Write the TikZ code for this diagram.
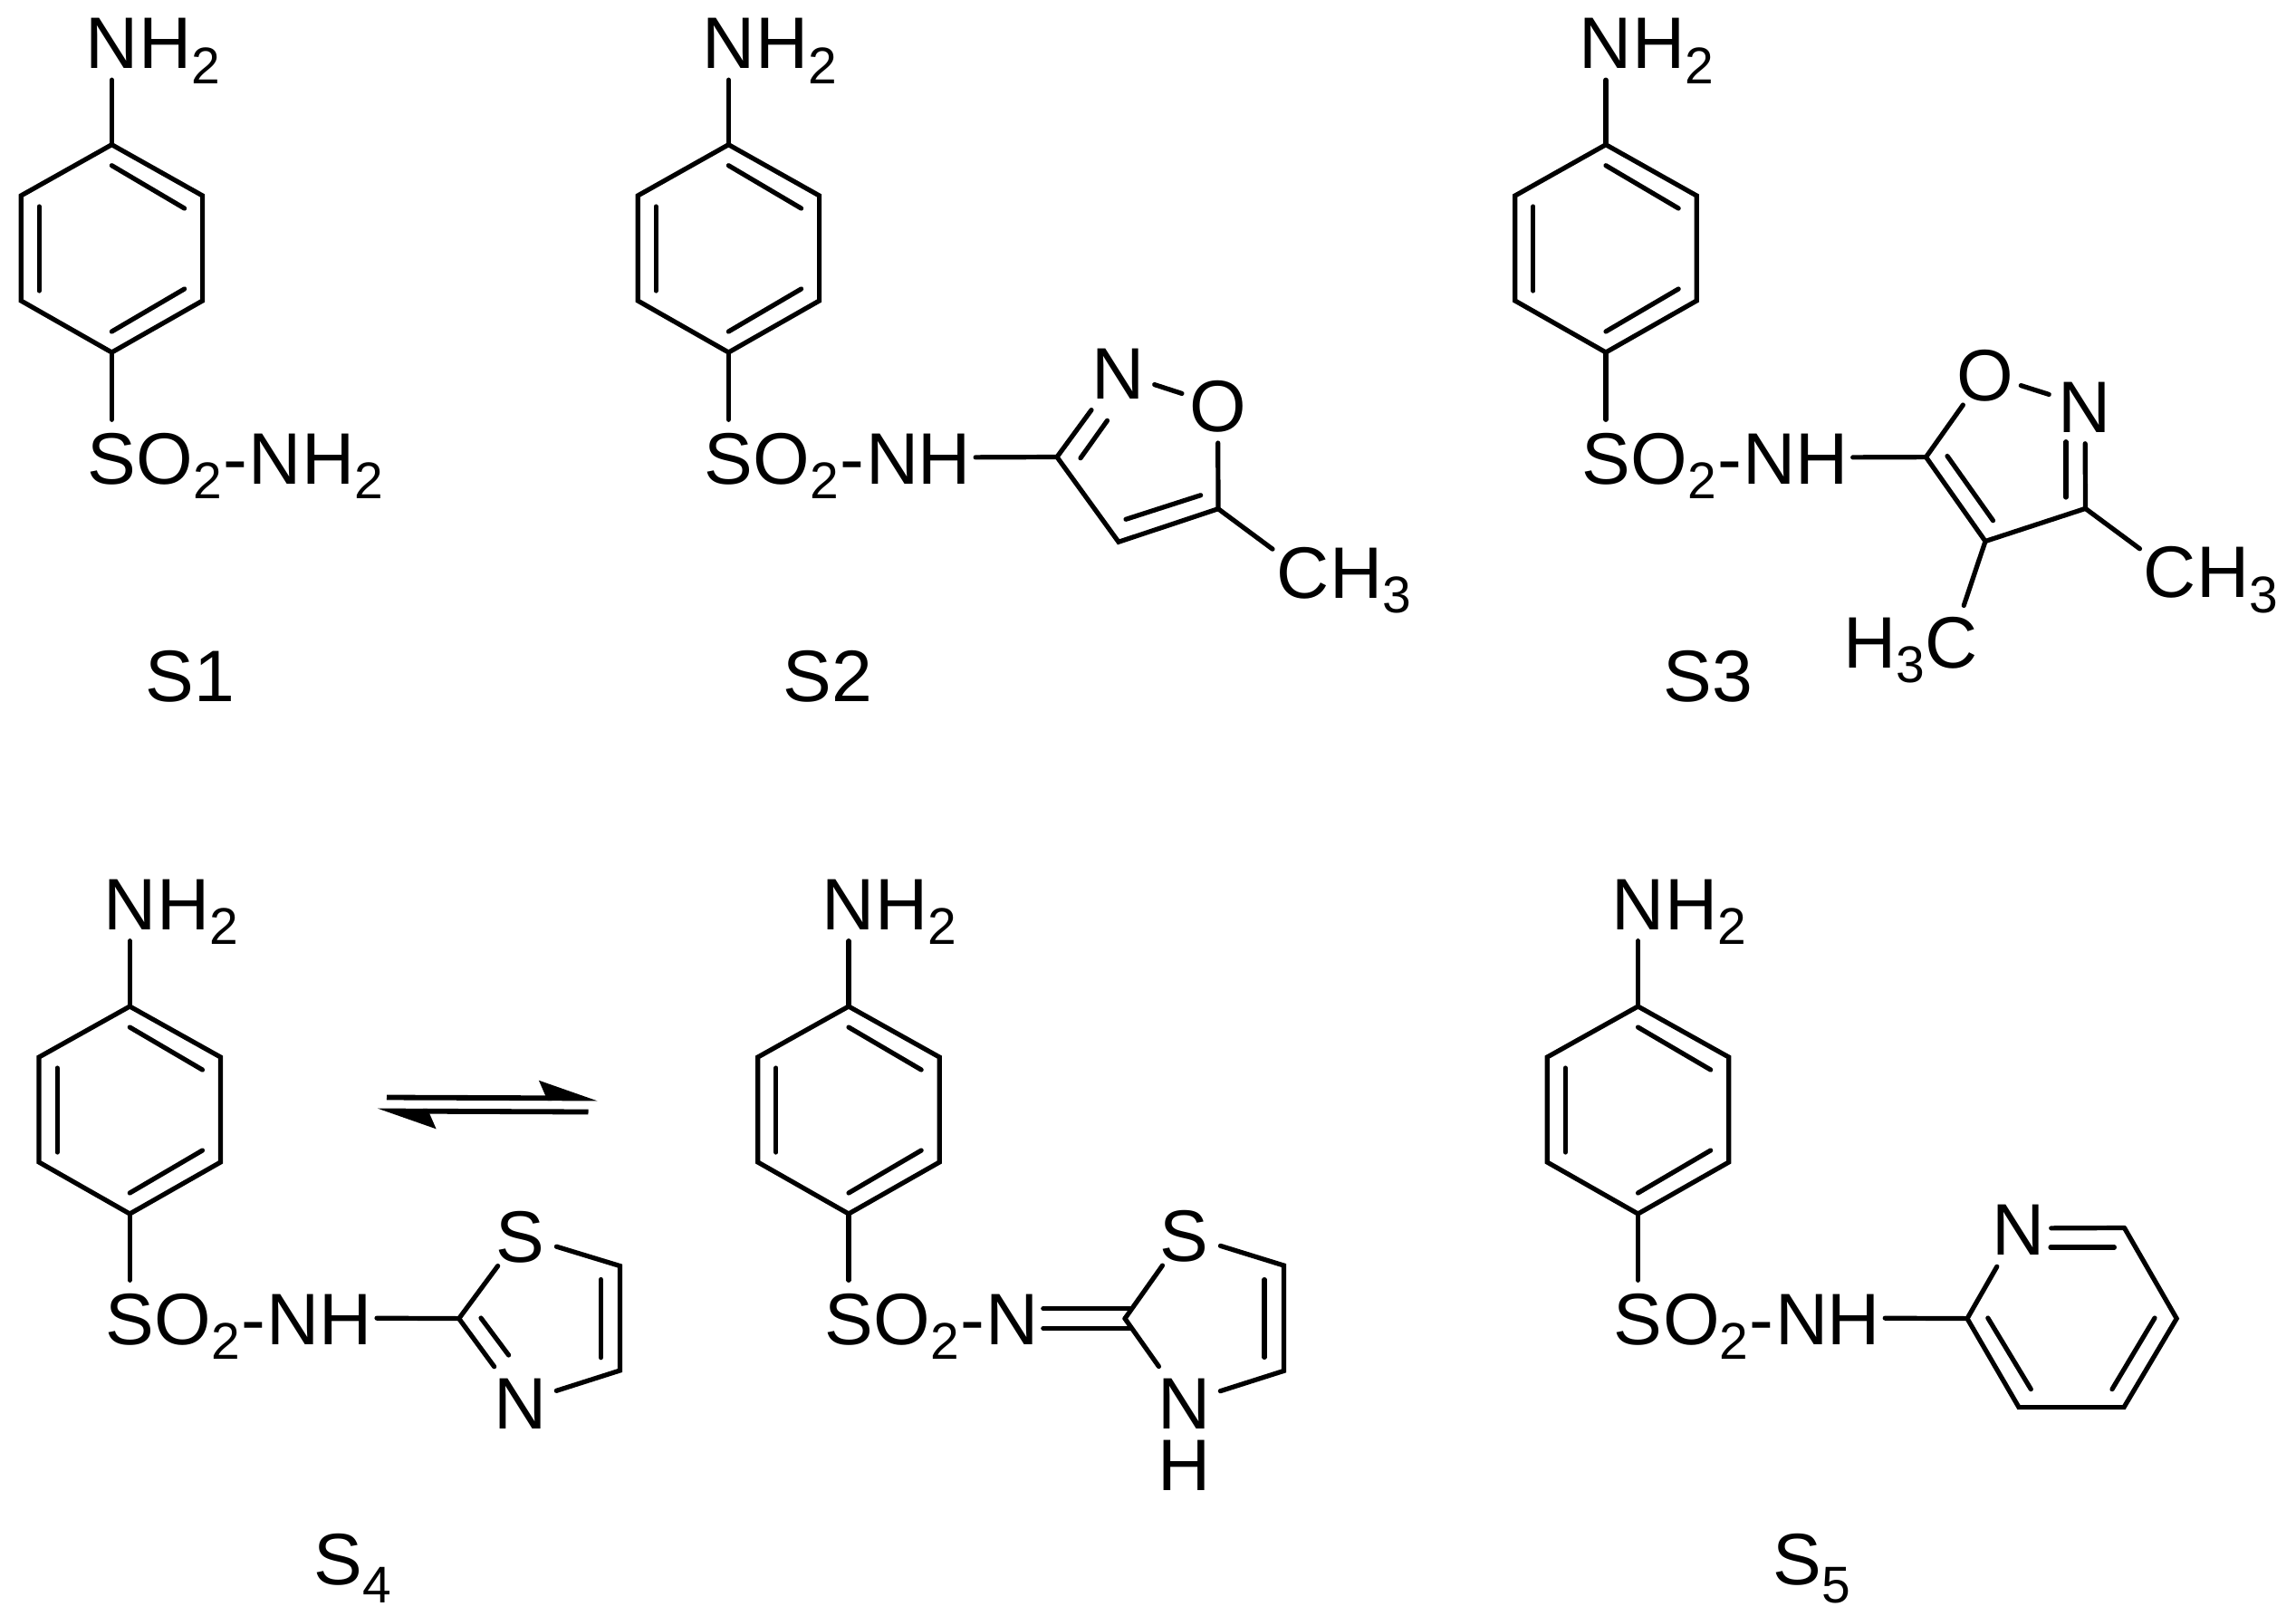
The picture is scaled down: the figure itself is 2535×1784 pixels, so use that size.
\documentclass[tikz,border=0pt]{standalone}
\usepackage{fontspec}
\setmainfont{Liberation Sans}
\usepackage{tikz}
\usetikzlibrary{arrows.meta}

\newcommand{\sbs}[1]{\raisebox{-0.165cm}{\fontsize{16.2pt}{16pt}\selectfont #1}}
\newcommand{\sbslow}[1]{\raisebox{-0.2cm}{\fontsize{16.2pt}{16pt}\selectfont #1}}
\newcommand{\atomtxt}[1]{\makebox[0pt]{\raisebox{-0.29cm}[0pt][0pt]{#1}}}
\newcommand{\hyph}{\kern0.015cm-\kern0.015cm}
\tikzset{
	bond/.style={black,line width=0.052cm,line cap=round,line join=miter},
	atom/.style={circle,inner sep=0pt,minimum size=0.82cm},
	atomh/.style={circle,inner sep=0pt,minimum size=0.67cm},
	tail/.style={inner sep=0pt,anchor=base west},
	eqarrow/.style={black,line width=0.058cm,-{Stealth[left,length=0.56cm,width=0.38cm,inset=0.08cm]}}
}

\begin{document}
\begin{tikzpicture}[x=0.01cm,y=-0.01cm,every node/.style={font=\fontsize{22.9pt}{26pt}\selectfont}]
	\useasboundingbox (0,0) rectangle (2535,1784);

	%S1
	\coordinate (s1a) at (123.4,159.7);
	\coordinate (s1b) at (223.6,216);
	\coordinate (s1c) at (223.6,332);
	\coordinate (s1d) at (123.4,389);
	\coordinate (s1e) at (23.2,332);
	\coordinate (s1f) at (23.2,216);
	\draw [bond] (s1a) -- (s1b) -- (s1c) -- (s1d) -- (s1e) -- (s1f) -- cycle;
	\draw [bond] ([yshift=-0.23cm]s1a) -- ([xshift=-0.2cm,yshift=-0.14cm]s1b);
	\draw [bond] ([xshift=0.2cm,yshift=-0.12cm]s1f) -- ([xshift=0.2cm,yshift=0.11cm]s1e);
	\draw [bond] ([yshift=0.23cm]s1d) -- ([xshift=-0.2cm,yshift=0.13cm]s1c);
	\node [atom] (s1n) at (123.4,46.5){\atomtxt{N}};
	\node [tail] (s1nh) at (152.4,75.5){H\sbs{2}};
	\node [atom] (s1s) at (123.4,505){\atomtxt{S}};
	\node [tail] (s1so) at (150.2,534){O\sbs{2}\hyph NH\sbs{2}};
	\draw [bond] (s1a) -- (s1n);
	\draw [bond] (s1d) -- (s1s);

	%S2
	\coordinate (s2a) at (804.4,159.7);
	\coordinate (s2b) at (904.6,216);
	\coordinate (s2c) at (904.6,332);
	\coordinate (s2d) at (804.4,389);
	\coordinate (s2e) at (704.2,332);
	\coordinate (s2f) at (704.2,216);
	\draw [bond] (s2a) -- (s2b) -- (s2c) -- (s2d) -- (s2e) -- (s2f) -- cycle;
	\draw [bond] ([yshift=-0.23cm]s2a) -- ([xshift=-0.2cm,yshift=-0.14cm]s2b);
	\draw [bond] ([xshift=0.2cm,yshift=-0.12cm]s2f) -- ([xshift=0.2cm,yshift=0.11cm]s2e);
	\draw [bond] ([yshift=0.23cm]s2d) -- ([xshift=-0.2cm,yshift=0.13cm]s2c);
	\node [atom] (s2n) at (804.4,46.5){\atomtxt{N}};
	\node [tail] (s2nh) at (833.4,75.5){H\sbs{2}};
	\node [atom] (s2s) at (804.4,505){\atomtxt{S}};
	\node [tail] (s2so) at (831.2,534){O\sbs{2}\hyph N};
	\node [atomh] (s2h) at (1042.9,505){\atomtxt{H}};
	\draw [bond] (s2a) -- (s2n);
	\draw [bond] (s2d) -- (s2s);
	% ring
	\coordinate (s2p) at (1167,504.5);
	\coordinate (s2q) at (1235,598.3);
	\coordinate (s2r) at (1345,561.7);
	\node [atom] (s2m) at (1235,411.7){\atomtxt{N}};
	\node [atom] (s2o) at (1344.6,447.3){\atomtxt{O}};
	\node [atom] (s2c) at (1438.5,631){\atomtxt{C}};
	\node [tail] (s2ch) at (1467.5,660){H\sbs{3}};
	\draw [bond] (s2h) -- (s2p);
	\draw [bond,shorten >=0.09cm] (s2p) -- (s2m);
	\draw [bond] (s2m) -- (s2o);
	\draw [bond] (s2o) -- (s2r);
	\draw [bond] (s2p) -- (s2q) -- (s2r);
	\draw [bond] (s2r) -- (s2c);
	\coordinate (s2i) at (1193,505.7);
	\coordinate (s2j) at (1222.5,464.3);
	\coordinate (s2k) at (1243,573.3);
	\coordinate (s2l) at (1325.7,546.7);
	\draw [bond] (s2i) -- (s2j);
	\draw [bond] (s2k) -- (s2l);

	%S3
	\coordinate (s3a) at (1773,159.7);
	\coordinate (s3b) at (1873.2,216);
	\coordinate (s3c) at (1873.2,332);
	\coordinate (s3d) at (1773,389);
	\coordinate (s3e) at (1672.8,332);
	\coordinate (s3f) at (1672.8,216);
	\draw [bond] (s3a) -- (s3b) -- (s3c) -- (s3d) -- (s3e) -- (s3f) -- cycle;
	\draw [bond] ([yshift=-0.23cm]s3a) -- ([xshift=-0.2cm,yshift=-0.14cm]s3b);
	\draw [bond] ([xshift=0.2cm,yshift=-0.12cm]s3f) -- ([xshift=0.2cm,yshift=0.11cm]s3e);
	\draw [bond] ([yshift=0.23cm]s3d) -- ([xshift=-0.2cm,yshift=0.13cm]s3c);
	\node [atom] (s3n) at (1773,46.5){\atomtxt{N}};
	\node [tail] (s3nh) at (1802,75.5){H\sbs{2}};
	\node [atom] (s3s) at (1773,505){\atomtxt{S}};
	\node [tail] (s3so) at (1799.8,534){O\sbs{2}\hyph N};
	\node [atomh] (s3h) at (2011.5,505){\atomtxt{H}};
	\draw [bond] (s3a) -- (s3n);
	\draw [bond] (s3d) -- (s3s);
	% ring
	\coordinate (s3p) at (2126.5,504.6);
	\coordinate (s3q) at (2192,597.5);
	\coordinate (s3r) at (2302.5,561.4);
	\node [atom] (s3o) at (2191.5,413){\atomtxt{O}};
	\node [atom] (s3m) at (2302,448){\atomtxt{N}};
	\node [atom] (s3c) at (2396,630.6){\atomtxt{C}};
	\node [tail] (s3ch) at (2425,659.6){H\sbs{3}};
	\node [atom] (s3g) at (2155,708){\atomtxt{C}};
	\node [tail,anchor=base east] (s3gh) at (2126,737){H\sbs{3}};
	\draw [bond] (s3h) -- (s3p);
	\draw [bond] (s3p) -- (s3o);
	\draw [bond] (s3o) -- (s3m);
	\draw [bond] (s3m) -- (s3r);
	\draw [bond] (s3r) -- (s3q) -- (s3p);
	\draw [bond] (s3r) -- (s3c);
	\draw [bond] (s3q) -- (s3g);
	\coordinate (s3i) at (2281,487.7);
	\coordinate (s3j) at (2281,549);
	\coordinate (s3k) at (2150,503.5);
	\coordinate (s3l) at (2200.5,574.7);
	\draw [bond] (s3i) -- (s3j);
	\draw [bond] (s3k) -- (s3l);

	%S4
	\coordinate (s4a) at (143.3,1111);
	\coordinate (s4b) at (243.5,1167);
	\coordinate (s4c) at (243.5,1283);
	\coordinate (s4d) at (143.3,1340);
	\coordinate (s4e) at (43.1,1283);
	\coordinate (s4f) at (43.1,1167);
	\draw [bond] (s4a) -- (s4b) -- (s4c) -- (s4d) -- (s4e) -- (s4f) -- cycle;
	\draw [bond] ([yshift=-0.23cm]s4a) -- ([xshift=-0.2cm,yshift=-0.14cm]s4b);
	\draw [bond] ([xshift=0.2cm,yshift=-0.12cm]s4f) -- ([xshift=0.2cm,yshift=0.11cm]s4e);
	\draw [bond] ([yshift=0.23cm]s4d) -- ([xshift=-0.2cm,yshift=0.13cm]s4c);
	\node [atom] (s4n) at (143.3,997){\atomtxt{N}};
	\node [tail] (s4nh) at (172.3,1026){H\sbs{2}};
	\node [atom] (s4s) at (143.3,1455){\atomtxt{S}};
	\node [tail] (s4so) at (170.1,1484){O\sbs{2}\hyph N};
	\node [atomh] (s4h) at (381.8,1455){\atomtxt{H}};
	\draw [bond] (s4a) -- (s4n);
	\draw [bond] (s4d) -- (s4s);
	% ring
	\coordinate (s4p) at (506.7,1455.6);
	\coordinate (s4q) at (684.4,1397.5);
	\coordinate (s4r) at (684.4,1513);
	\node [atom] (s4t) at (574.5,1364){\atomtxt{S}};
	\node [atom] (s4m) at (574.5,1548){\atomtxt{N}};
	\draw [bond] (s4h) -- (s4p);
	\draw [bond] (s4p) -- (s4t);
	\draw [bond] (s4t) -- (s4q) -- (s4r) -- (s4m);
	\draw [bond,shorten >=0.07cm] (s4p) -- (s4m);
	\coordinate (s4i) at (531,1455);
	\coordinate (s4j) at (561.6,1496);
	\coordinate (s4k) at (663.4,1412.5);
	\coordinate (s4l) at (663.4,1498.7);
	\draw [bond] (s4i) -- (s4j);
	\draw [bond] (s4k) -- (s4l);

	% equilibrium
	\coordinate (eqa) at (427,1211.5);
	\coordinate (eqb) at (660,1212.5);
	\coordinate (eqc) at (649.5,1227.5);
	\coordinate (eqd) at (416.5,1226.5);
	\draw [eqarrow] (eqa) -- (eqb);
	\draw [eqarrow] (eqc) -- (eqd);

	%tautomer
	\coordinate (s6a) at (937,1111);
	\coordinate (s6b) at (1037.2,1167);
	\coordinate (s6c) at (1037.2,1283);
	\coordinate (s6d) at (937,1340);
	\coordinate (s6e) at (836.8,1283);
	\coordinate (s6f) at (836.8,1167);
	\draw [bond] (s6a) -- (s6b) -- (s6c) -- (s6d) -- (s6e) -- (s6f) -- cycle;
	\draw [bond] ([yshift=-0.23cm]s6a) -- ([xshift=-0.2cm,yshift=-0.14cm]s6b);
	\draw [bond] ([xshift=0.2cm,yshift=-0.12cm]s6f) -- ([xshift=0.2cm,yshift=0.11cm]s6e);
	\draw [bond] ([yshift=0.23cm]s6d) -- ([xshift=-0.2cm,yshift=0.13cm]s6c);
	\node [atom] (s6n) at (937,997){\atomtxt{N}};
	\node [tail] (s6nh) at (966,1026){H\sbs{2}};
	\node [atom] (s6s) at (937,1455){\atomtxt{S}};
	\node [tail] (s6so) at (963.8,1484){O\sbs{2}\hyph};
	\node [atom] (s6g) at (1118,1455){\atomtxt{N}};
	\draw [bond] (s6a) -- (s6n);
	\draw [bond] (s6d) -- (s6s);
	% ring
	\coordinate (s6p) at (1242,1455.6);
	\coordinate (s6q) at (1417.4,1397);
	\coordinate (s6r) at (1417.4,1513.4);
	\node [atom] (s6t) at (1307.6,1363){\atomtxt{S}};
	\node [atom] (s6m) at (1307.6,1548.3){\atomtxt{N}};
	\node [atom] (s6u) at (1307.6,1616.5){\atomtxt{H}};
	\draw [bond] (s6p) -- (s6t);
	\draw [bond] (s6t) -- (s6q) -- (s6r) -- (s6m);
	\draw [bond,shorten >=0.07cm] (s6p) -- (s6m);
	\coordinate (s6v) at (1151.8,1444.6);
	\coordinate (s6w) at (1248,1444.6);
	\coordinate (s6x) at (1151.8,1466.4);
	\coordinate (s6y) at (1248,1466.4);
	\draw [bond] (s6v) -- (s6w);
	\draw [bond] (s6x) -- (s6y);
	\coordinate (s6k) at (1396,1412.6);
	\coordinate (s6l) at (1396,1498.4);
	\draw [bond] (s6k) -- (s6l);

	%S5
	\coordinate (s5a) at (1808.5,1111);
	\coordinate (s5b) at (1908.7,1167);
	\coordinate (s5c) at (1908.7,1283);
	\coordinate (s5d) at (1808.5,1340);
	\coordinate (s5e) at (1708.3,1283);
	\coordinate (s5f) at (1708.3,1167);
	\draw [bond] (s5a) -- (s5b) -- (s5c) -- (s5d) -- (s5e) -- (s5f) -- cycle;
	\draw [bond] ([yshift=-0.23cm]s5a) -- ([xshift=-0.2cm,yshift=-0.14cm]s5b);
	\draw [bond] ([xshift=0.2cm,yshift=-0.12cm]s5f) -- ([xshift=0.2cm,yshift=0.11cm]s5e);
	\draw [bond] ([yshift=0.23cm]s5d) -- ([xshift=-0.2cm,yshift=0.13cm]s5c);
	\node [atom] (s5n) at (1808.5,997){\atomtxt{N}};
	\node [tail] (s5nh) at (1837.5,1026){H\sbs{2}};
	\node [atom] (s5s) at (1808.5,1455){\atomtxt{S}};
	\node [tail] (s5so) at (1835.3,1484){O\sbs{2}\hyph N};
	\node [atomh] (s5h) at (2047,1455){\atomtxt{H}};
	\draw [bond] (s5a) -- (s5n);
	\draw [bond] (s5d) -- (s5s);
	% ring
	\coordinate (s5p) at (2172,1455.6);
	\coordinate (s5q) at (2229,1553.6);
	\coordinate (s5r) at (2345,1553.6);
	\coordinate (s5t) at (2403.2,1455.6);
	\coordinate (s5u) at (2345.5,1355.5);
	\node [atom] (s5m) at (2229,1356){\atomtxt{N}};
	\draw [bond] (s5h) -- (s5p);
	\draw [bond,shorten >=0.07cm] (s5p) -- (s5m);
	\draw [bond] (s5p) -- (s5q) -- (s5r) -- (s5t) -- (s5u);
	\draw [bond,shorten >=-0.06cm] (s5u) -- (s5m);
	\coordinate (s5i) at (2264,1377);
	\coordinate (s5j) at (2334.4,1377);
	\coordinate (s5k) at (2194.8,1455);
	\coordinate (s5l) at (2242.3,1533.6);
	\coordinate (s5v) at (2332,1533.6);
	\coordinate (s5w) at (2379,1455);
	\draw [bond] (s5i) -- (s5j);
	\draw [bond] (s5k) -- (s5l);
	\draw [bond] (s5v) -- (s5w);

	% label
	\node [tail] (lab1) at (160,774.5){S1};
	\node [tail] (lab2) at (864,774.5){S2};
	\node [tail] (lab3) at (1836,774.5){S3};
	\node [tail] (lab4) at (346,1749){S\sbslow{4}};
	\node [tail] (lab5) at (1957,1749){S\sbslow{5}};
\end{tikzpicture}
\end{document}
